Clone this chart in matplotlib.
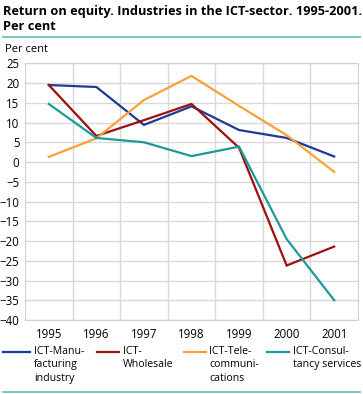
import numpy as np
import matplotlib
matplotlib.use("Agg")
import matplotlib.pyplot as plt
from matplotlib.lines import Line2D

years = ["1995", "1996", "1997", "1998", "1999", "2000", "2001"]
manufacturing = [19.5, 19.0, 9.4, 14.1, 8.1, 6.1, 1.4]
wholesale = [19.5, 6.6, 10.6, 14.7, 3.6, -26.2, -21.4]
telecom = [1.3, 6.0, 15.7, 21.8, 14.2, 6.8, -2.5]
consultancy = [14.7, 6.1, 5.0, 1.5, 3.9, -19.5, -35.0]

labels = ["ICT-Manu-\nfacturing\nindustry", "ICT-\nWholesale",
          "ICT-Tele-\ncommuni-\ncations", "ICT-Consul-\ntancy services"]
colors = ["#1f3a93", "#9b1010", "#f8a03a", "#1b9a9a"]
series = [manufacturing, wholesale, telecom, consultancy]

plt.rcParams['font.family'] = ['Open Sans', 'DejaVu Sans']

fig = plt.figure(figsize=(3.63, 3.94), dpi=100)
ax = fig.add_axes([25 / 363, 1 - 320 / 394, 333 / 363, (320 - 63.3) / 394])

x = np.arange(len(years))
for vals, c in zip(series, colors):
    ax.plot(x, vals, color=c, lw=1.6, solid_joinstyle='miter')

ax.set_xlim(-0.5, len(years) - 0.5)
ax.set_ylim(-40, 25)
ax.set_yticks(range(-40, 26, 5))
ax.set_xticks(x)
ax.set_xticklabels(years)
ax.set_xticks(x[:-1] + 0.5, minor=True)
ax.tick_params(which='both', length=0, labelsize=8.3, colors='black')
ax.tick_params(axis='y', pad=4)
ax.tick_params(axis='x', pad=6)
ax.grid(True, axis='y', color='#d9d9d9', lw=1.0)
ax.grid(True, axis='x', which='minor', color='#d9d9d9', lw=1.0)
ax.set_axisbelow(True)
for s in ax.spines.values():
    s.set_color('#d0d0d0')
    s.set_linewidth(0.8)

fig.text(3 / 363, 1 - 5 / 394, "Return on equity. Industries in the ICT-sector. 1995-2001.\nPer cent",
         fontsize=9.2, fontweight='bold', va='top', ha='left', linespacing=1.15)
fig.add_artist(Line2D([3 / 363, 360 / 363], [1 - 37 / 394] * 2, color='#6cc5c5', lw=1.3))
fig.add_artist(Line2D([3 / 363, 360 / 363], [1 - 392 / 394] * 2, color='#6cc5c5', lw=1.3))
fig.text(5 / 363, 1 - 50 / 394, "Per cent", fontsize=8, va='center', ha='left')

# legend
lx = [(3, 30, 34), (97, 119, 123), (184, 206, 209), (267, 289, 293)]
for (x0, x1, tx), lab, c in zip(lx, labels, colors):
    yy = 1 - 352 / 394
    fig.add_artist(Line2D([x0 / 363, x1 / 363], [yy, yy], color=c, lw=1.6))
    fig.text(tx / 363, 1 - 346 / 394, lab, fontsize=7.6, va='top', ha='left',
             linespacing=1.3)

fig.savefig("out.png", dpi=100)
